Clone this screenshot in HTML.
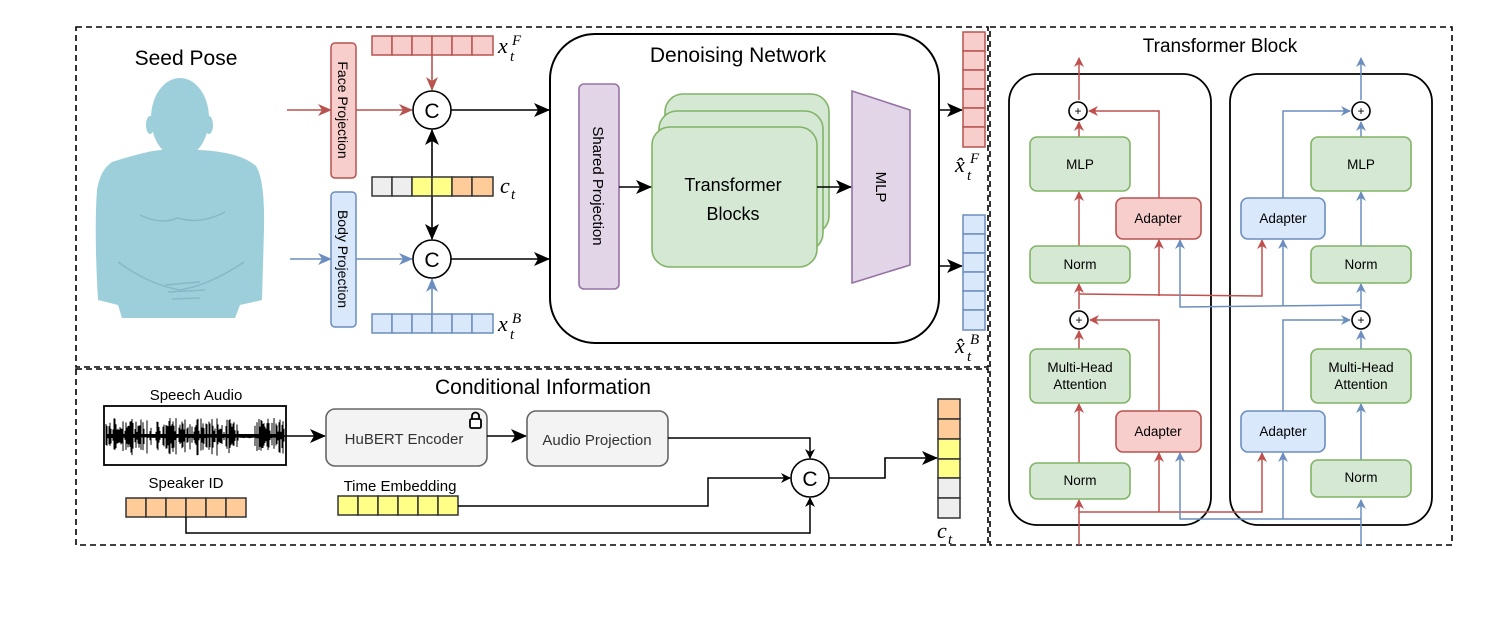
<!DOCTYPE html>
<html><head><meta charset="utf-8"><style>
html,body{margin:0;padding:0;background:#fff;}
svg{display:block;font-family:"Liberation Sans",sans-serif;}
.m{font-family:"Liberation Serif",serif;font-style:italic;}
</style></head><body>
<svg width="1512" height="644" viewBox="0 0 1512 644" xmlns="http://www.w3.org/2000/svg">
<defs>
<marker id="ak" markerWidth="10" markerHeight="10" refX="9" refY="5" orient="auto" markerUnits="userSpaceOnUse"><path d="M0,0 L10,5 L0,10 L3,5z" fill="#000"/></marker>
<marker id="akb" markerWidth="16" markerHeight="14" refX="15" refY="7" orient="auto" markerUnits="userSpaceOnUse"><path d="M0,0 L16,7 L0,14 L4,7z" fill="#000"/></marker>
<marker id="ar" markerWidth="14" markerHeight="12" refX="13" refY="6" orient="auto" markerUnits="userSpaceOnUse"><path d="M0,0 L14,6 L0,12 L4,6z" fill="#b85450"/></marker>
<marker id="ab" markerWidth="14" markerHeight="12" refX="13" refY="6" orient="auto" markerUnits="userSpaceOnUse"><path d="M0,0 L14,6 L0,12 L4,6z" fill="#6c8ebf"/></marker>
<marker id="ars" markerWidth="10" markerHeight="10" refX="9" refY="5" orient="auto" markerUnits="userSpaceOnUse"><path d="M0,0 L10,5 L0,10 L3,5z" fill="#c0504d"/></marker>
<marker id="abs" markerWidth="10" markerHeight="10" refX="9" refY="5" orient="auto" markerUnits="userSpaceOnUse"><path d="M0,0 L10,5 L0,10 L3,5z" fill="#6c8ebf"/></marker>
</defs>

<g fill="none" stroke="#000" stroke-width="1.6" stroke-dasharray="6,4">
<rect x="76" y="27" width="912" height="340"/>
<rect x="76" y="369" width="912" height="176"/>
<rect x="990" y="27" width="462" height="518"/>
</g>

<text x="186" y="65" font-size="21" text-anchor="middle">Seed Pose</text>
<g fill="#9dcfdb">
<path d="M112,162 Q150,150 162,150 L200,150 Q240,152 256,166 Q265,180 264,230 L262,300 L240,305 L235,318 L122,318 L118,305 L98,300 Q94,230 97,190 Q100,170 112,162z"/>
<rect x="163" y="130" width="34" height="30" rx="8"/>
<ellipse cx="180" cy="118" rx="29" ry="40"/>
<ellipse cx="150" cy="125" rx="4" ry="9"/><ellipse cx="209" cy="125" rx="4" ry="9"/>
</g>
<g fill="none" stroke="#86b8c5" stroke-width="1.5">
<path d="M118,262 Q150,285 180,290 Q210,285 244,262"/>
<path d="M165,285 L200,282 M168,292 L205,290 M172,299 L200,298"/>
<path d="M140,215 Q160,225 178,218 Q200,225 225,212"/>
</g>

<rect x="331" y="43" width="25" height="135" rx="4" fill="#f8cecc" stroke="#b85450" stroke-width="1.5"/>
<text transform="translate(338,110) rotate(90)" font-size="14" text-anchor="middle">Face Projection</text>
<rect x="331" y="192" width="25" height="135" rx="4" fill="#dae8fc" stroke="#6c8ebf" stroke-width="1.5"/>
<text transform="translate(338,259) rotate(90)" font-size="14" text-anchor="middle">Body Projection</text>

<line x1="287" y1="110" x2="331" y2="110" stroke="#b85450" stroke-width="1.6" marker-end="url(#ar)"/>
<line x1="356" y1="110" x2="412" y2="110" stroke="#b85450" stroke-width="1.6" marker-end="url(#ar)"/>
<line x1="290" y1="259" x2="331" y2="259" stroke="#6c8ebf" stroke-width="1.6" marker-end="url(#ab)"/>
<line x1="356" y1="259" x2="412" y2="259" stroke="#6c8ebf" stroke-width="1.6" marker-end="url(#ab)"/>
<line x1="432" y1="55" x2="432" y2="90" stroke="#b85450" stroke-width="1.6" marker-end="url(#ar)"/>
<line x1="432" y1="314" x2="432" y2="279" stroke="#6c8ebf" stroke-width="1.6" marker-end="url(#ab)"/>
<line x1="432" y1="177" x2="432" y2="130" stroke="#000" stroke-width="1.6" marker-end="url(#akb)"/>
<line x1="432" y1="196" x2="432" y2="239" stroke="#000" stroke-width="1.6" marker-end="url(#akb)"/>
<line x1="451" y1="110" x2="549" y2="110" stroke="#000" stroke-width="1.6" marker-end="url(#akb)"/>
<line x1="451" y1="259" x2="549" y2="259" stroke="#000" stroke-width="1.6" marker-end="url(#akb)"/>

<g stroke="#000" stroke-width="1.6" fill="#fff">
<circle cx="432" cy="110" r="19"/><circle cx="432" cy="259" r="19"/>
</g>
<text x="432" y="118" font-size="21" text-anchor="middle">C</text>
<text x="432" y="267" font-size="21" text-anchor="middle">C</text>

<g stroke-width="1.5">
<g fill="#f8cecc" stroke="#b85450">
<rect x="372" y="36" width="20" height="19"/><rect x="392" y="36" width="20" height="19"/><rect x="412" y="36" width="20" height="19"/><rect x="432" y="36" width="20" height="19"/><rect x="452" y="36" width="20" height="19"/><rect x="472" y="36" width="21" height="19"/>
</g>
<g fill="#dae8fc" stroke="#6c8ebf">
<rect x="372" y="314" width="20" height="19"/><rect x="392" y="314" width="20" height="19"/><rect x="412" y="314" width="20" height="19"/><rect x="432" y="314" width="20" height="19"/><rect x="452" y="314" width="20" height="19"/><rect x="472" y="314" width="21" height="19"/>
</g>
<g stroke="#333">
<rect x="372" y="177" width="20" height="19" fill="#eeeeee"/><rect x="392" y="177" width="20" height="19" fill="#eeeeee"/><rect x="412" y="177" width="20" height="19" fill="#ffff88"/><rect x="432" y="177" width="20" height="19" fill="#ffff88"/><rect x="452" y="177" width="20" height="19" fill="#ffcc99"/><rect x="472" y="177" width="21" height="19" fill="#ffcc99"/>
</g>
</g>
<text x="498" y="53" font-size="22" class="m">x</text><text x="510" y="61" font-size="15" class="m">t</text><text x="512" y="45" font-size="15" class="m">F</text>
<text x="500" y="193" font-size="22" class="m">c</text><text x="511" y="199" font-size="15" class="m">t</text>
<text x="498" y="331" font-size="22" class="m">x</text><text x="510" y="339" font-size="15" class="m">t</text><text x="512" y="323" font-size="15" class="m">B</text>

<rect x="550" y="34" width="389" height="309" rx="45" fill="#fff" stroke="#000" stroke-width="2"/>
<text x="738" y="62" font-size="21" text-anchor="middle">Denoising Network</text>
<rect x="579" y="84" width="40" height="205" rx="5" fill="#e1d5e7" stroke="#9673a6" stroke-width="1.6"/>
<text transform="translate(593,186) rotate(90)" font-size="15" text-anchor="middle">Shared  Projection</text>
<g fill="#d5e8d4" stroke="#82b366" stroke-width="1.6">
<rect x="665" y="94" width="164" height="140" rx="18"/>
<rect x="659" y="111" width="164" height="140" rx="18"/>
<rect x="652" y="127" width="165" height="140" rx="18"/>
</g>
<text x="733" y="191" font-size="18" text-anchor="middle">Transformer</text>
<text x="733" y="220" font-size="18" text-anchor="middle">Blocks</text>
<path d="M852,91 L910,110 L910,265 L852,283z" fill="#e1d5e7" stroke="#9673a6" stroke-width="1.6"/>
<text transform="translate(876,187) rotate(90)" font-size="15" text-anchor="middle">MLP</text>
<line x1="619" y1="187" x2="651" y2="187" stroke="#000" stroke-width="1.6" marker-end="url(#akb)"/>
<line x1="817" y1="187" x2="851" y2="187" stroke="#000" stroke-width="1.6" marker-end="url(#akb)"/>
<line x1="939" y1="110" x2="962" y2="110" stroke="#000" stroke-width="1.6" marker-end="url(#akb)"/>
<line x1="939" y1="266" x2="962" y2="266" stroke="#000" stroke-width="1.6" marker-end="url(#akb)"/>
<g stroke-width="1.5">
<g fill="#f8cecc" stroke="#b85450">
<rect x="963" y="32" width="22" height="19"/><rect x="963" y="51" width="22" height="19"/><rect x="963" y="70" width="22" height="19"/><rect x="963" y="89" width="22" height="19"/><rect x="963" y="108" width="22" height="19"/><rect x="963" y="127" width="22" height="20"/>
</g>
<g fill="#dae8fc" stroke="#6c8ebf">
<rect x="963" y="215" width="22" height="19"/><rect x="963" y="234" width="22" height="19"/><rect x="963" y="253" width="22" height="19"/><rect x="963" y="272" width="22" height="19"/><rect x="963" y="291" width="22" height="19"/><rect x="963" y="310" width="22" height="20"/>
</g>
</g>
<text x="955" y="172" font-size="22" class="m">x̂</text><text x="967" y="180" font-size="15" class="m">t</text><text x="970" y="163" font-size="15" class="m">F</text>
<text x="955" y="353" font-size="22" class="m">x̂</text><text x="967" y="361" font-size="15" class="m">t</text><text x="970" y="344" font-size="15" class="m">B</text>

<text x="543" y="394" font-size="21" text-anchor="middle">Conditional Information</text>
<text x="196" y="400" font-size="15" text-anchor="middle">Speech Audio</text>
<rect x="104" y="406" width="182" height="59" fill="#fff" stroke="#000" stroke-width="1.8"/>
<g id="wave" stroke="#000" stroke-width="1"></g>
<line x1="106" y1="436" x2="325" y2="436" stroke="#000" stroke-width="1.5" marker-end="url(#akb)"/>
<rect x="326" y="409" width="161" height="57" rx="9" fill="#f3f3f3" stroke="#666" stroke-width="1.6"/>
<text x="404" y="444" font-size="15" fill="#333" text-anchor="middle">HuBERT Encoder</text>
<rect x="470" y="419" width="11" height="9" rx="1.5" fill="#fff" stroke="#000" stroke-width="1.8"/>
<path d="M472,419 v-3 a3.5,3.5 0 0 1 7,0 v3" fill="none" stroke="#000" stroke-width="1.8"/>
<line x1="487" y1="436" x2="526" y2="436" stroke="#000" stroke-width="1.6" marker-end="url(#akb)"/>
<rect x="527" y="411" width="141" height="55" rx="9" fill="#f3f3f3" stroke="#666" stroke-width="1.6"/>
<text x="597" y="445" font-size="15" fill="#333" text-anchor="middle">Audio Projection</text>
<path d="M668,438 L810,438 L810,458" fill="none" stroke="#000" stroke-width="1.5" marker-end="url(#ak)"/>
<text x="186" y="488" font-size="15" text-anchor="middle">Speaker ID</text>
<g fill="#ffcc99" stroke="#333" stroke-width="1.5">
<rect x="126" y="498" width="20" height="19"/><rect x="146" y="498" width="20" height="19"/><rect x="166" y="498" width="20" height="19"/><rect x="186" y="498" width="20" height="19"/><rect x="206" y="498" width="20" height="19"/><rect x="226" y="498" width="20" height="19"/>
</g>
<text x="400" y="491" font-size="15" text-anchor="middle">Time Embedding</text>
<g fill="#ffff88" stroke="#333" stroke-width="1.5">
<rect x="338" y="496" width="20" height="19"/><rect x="358" y="496" width="20" height="19"/><rect x="378" y="496" width="20" height="19"/><rect x="398" y="496" width="20" height="19"/><rect x="418" y="496" width="20" height="19"/><rect x="438" y="496" width="20" height="19"/>
</g>
<path d="M458,506 L708,506 L708,478 L790,478" fill="none" stroke="#000" stroke-width="1.5" marker-end="url(#ak)"/>
<path d="M186,517 L186,533 L810,533 L810,498" fill="none" stroke="#000" stroke-width="1.5" marker-end="url(#ak)"/>
<circle cx="810" cy="478" r="19" fill="#fff" stroke="#000" stroke-width="1.6"/>
<text x="810" y="486" font-size="21" text-anchor="middle">C</text>
<path d="M829,478 L885,478 L885,458 L937,458" fill="none" stroke="#000" stroke-width="1.6" marker-end="url(#akb)"/>
<g stroke="#333" stroke-width="1.5">
<rect x="938" y="399" width="22" height="20" fill="#ffcc99"/><rect x="938" y="419" width="22" height="20" fill="#ffcc99"/><rect x="938" y="439" width="22" height="20" fill="#ffff88"/><rect x="938" y="459" width="22" height="19" fill="#ffff88"/><rect x="938" y="478" width="22" height="20" fill="#eeeeee"/><rect x="938" y="498" width="22" height="20" fill="#eeeeee"/>
</g>
<text x="937" y="538" font-size="22" class="m">c</text><text x="948" y="544" font-size="15" class="m">t</text>

<text x="1220" y="52" font-size="19" text-anchor="middle">Transformer Block</text>
<rect x="1009" y="74" width="202" height="451" rx="28" fill="none" stroke="#000" stroke-width="1.8"/>
<rect x="1230" y="74" width="202" height="451" rx="28" fill="none" stroke="#000" stroke-width="1.8"/>

<g fill="none" stroke-width="1.5">
<g stroke="#c0504d">
<line x1="1079" y1="545" x2="1079" y2="500" marker-end="url(#ars)"/>
<path d="M1079,512 L1262,512 L1262,453" marker-end="url(#ars)"/>
<line x1="1159" y1="512" x2="1159" y2="453" marker-end="url(#ars)"/>
<line x1="1079" y1="463" x2="1079" y2="404" marker-end="url(#ars)"/>
<line x1="1079" y1="349" x2="1079" y2="331" marker-end="url(#ars)"/>
<path d="M1159,411 L1159,320 L1090,320" marker-end="url(#ars)"/>
<line x1="1079" y1="309" x2="1079" y2="284" marker-end="url(#ars)"/>
<path d="M1079,294 L1262,296 L1262,240" marker-end="url(#ars)"/>
<line x1="1159" y1="296" x2="1159" y2="240" marker-end="url(#ars)"/>
<line x1="1079" y1="246" x2="1079" y2="192" marker-end="url(#ars)"/>
<line x1="1079" y1="137" x2="1079" y2="122" marker-end="url(#ars)"/>
<path d="M1159,198 L1159,111 L1089,111" marker-end="url(#ars)"/>
<line x1="1079" y1="100" x2="1079" y2="58" marker-end="url(#ars)"/>
</g>
<g stroke="#6c8ebf">
<line x1="1361" y1="545" x2="1361" y2="500" marker-end="url(#abs)"/>
<path d="M1361,519 L1180,519 L1180,453" marker-end="url(#abs)"/>
<line x1="1283" y1="519" x2="1283" y2="453" marker-end="url(#abs)"/>
<line x1="1361" y1="463" x2="1361" y2="404" marker-end="url(#abs)"/>
<line x1="1361" y1="349" x2="1361" y2="331" marker-end="url(#abs)"/>
<path d="M1283,411 L1283,320 L1350,320" marker-end="url(#abs)"/>
<line x1="1361" y1="309" x2="1361" y2="284" marker-end="url(#abs)"/>
<path d="M1361,305 L1180,307 L1180,240" marker-end="url(#abs)"/>
<line x1="1283" y1="306" x2="1283" y2="240" marker-end="url(#abs)"/>
<line x1="1361" y1="246" x2="1361" y2="192" marker-end="url(#abs)"/>
<line x1="1361" y1="137" x2="1361" y2="122" marker-end="url(#abs)"/>
<path d="M1283,198 L1283,111 L1350,111" marker-end="url(#abs)"/>
<line x1="1361" y1="100" x2="1361" y2="58" marker-end="url(#abs)"/>
</g>
</g>

<g stroke-width="1.6">
<g fill="#d5e8d4" stroke="#82b366">
<rect x="1030" y="137" width="100" height="54" rx="7"/><rect x="1030" y="246" width="100" height="37" rx="7"/><rect x="1030" y="349" width="100" height="54" rx="7"/><rect x="1030" y="463" width="100" height="36" rx="7"/>
<rect x="1311" y="137" width="100" height="54" rx="7"/><rect x="1311" y="246" width="100" height="37" rx="7"/><rect x="1311" y="349" width="100" height="54" rx="7"/><rect x="1311" y="460" width="100" height="37" rx="7"/>
</g>
<g fill="#f8cecc" stroke="#b85450">
<rect x="1116" y="198" width="85" height="41" rx="7"/><rect x="1116" y="411" width="85" height="41" rx="7"/>
</g>
<g fill="#dae8fc" stroke="#6c8ebf">
<rect x="1241" y="198" width="84" height="41" rx="7"/><rect x="1241" y="411" width="84" height="41" rx="7"/>
</g>
<g fill="#fff" stroke="#000">
<circle cx="1078" cy="111" r="9"/><circle cx="1079" cy="320" r="9"/><circle cx="1361" cy="111" r="9"/><circle cx="1361" cy="320" r="9"/>
</g>
</g>
<g font-size="12" text-anchor="middle">
<text x="1078" y="115">+</text><text x="1079" y="324">+</text><text x="1361" y="115">+</text><text x="1361" y="324">+</text>
</g>
<g font-size="13.5" text-anchor="middle">
<text x="1080" y="169">MLP</text><text x="1080" y="269">Norm</text><text x="1080" y="372">Multi-Head</text><text x="1080" y="389">Attention</text><text x="1080" y="485">Norm</text>
<text x="1361" y="169">MLP</text><text x="1361" y="269">Norm</text><text x="1361" y="372">Multi-Head</text><text x="1361" y="389">Attention</text><text x="1361" y="482">Norm</text>
<text x="1158" y="223">Adapter</text><text x="1158" y="436">Adapter</text><text x="1283" y="223">Adapter</text><text x="1283" y="436">Adapter</text>
</g>
</svg>
<script>
(function(){var g=document.getElementById('wave');var s=7,d='';function r(){s=(s*9301+49297)%233280;return s/233280;}
for(var x=106;x<285;x+=1){var a=(r()<0.2?2:4+r()*14);if(x>240&&x<255)a=2;d+='M'+x+','+(436-a)+'V'+(436+a*(0.7+r()*0.5));}
var p=document.createElementNS('http://www.w3.org/2000/svg','path');p.setAttribute('d',d);g.appendChild(p);})();
</script>
</body></html>
